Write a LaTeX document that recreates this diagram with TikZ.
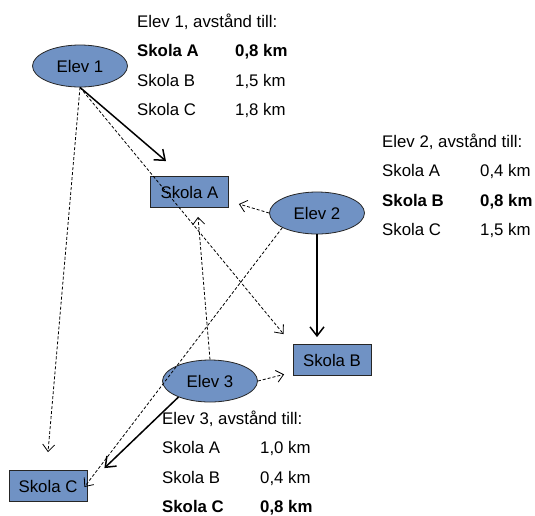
\documentclass[tikz,border=0pt]{standalone}
\usepackage{fontspec}
\setmainfont{Liberation Sans}
\usetikzlibrary{shapes,arrows.meta}

\definecolor{elevblue}{RGB}{112,146,196}

\begin{document}
\begin{tikzpicture}[x=1pt, y=-1pt, font=\fontsize{16.8}{29.5}\selectfont,
    elev/.style={ellipse, draw=black!85, fill=elevblue, line width=0.8pt, minimum width=95pt, minimum height=42pt, inner sep=0pt},
    skola/.style={rectangle, draw=black!85, fill=elevblue, line width=0.8pt, minimum width=78pt, minimum height=31pt, inner sep=0pt},
    info/.style={anchor=base west, inner sep=0pt},
    pick/.style={-{Straight Barb[length=9pt,width=14pt]}, line width=1.5pt},
    alt/.style={-{Straight Barb[length=7pt,width=12pt]}, line width=0.8pt, dash pattern=on 3pt off 2pt}]
    \useasboundingbox (0,0) rectangle (535,515);

    \node[elev] (E1) at (80,66) {Elev 1};
    \node[elev] (E2) at (317,213) {Elev 2};
    \node[elev] (E3) at (210,381) {Elev 3};
    \node[skola] (SA) at (189.5,192) {Skola A};
    \node[skola] (SB) at (332,360) {Skola B};
    \node[skola] (SC) at (48,486) {Skola C};

    % distances
    \node[info] (T1) at (137,27) {\begin{tabular}[t]{@{}p{98pt}@{}l@{}}
        \multicolumn{2}{@{}l@{}}{Elev 1, avstånd till:}\\
        \textbf{Skola A} & \textbf{0,8 km}\\
        Skola B & 1,5 km\\
        Skola C & 1,8 km
      \end{tabular}};
    \node[info] (T2) at (382,147) {\begin{tabular}[t]{@{}p{98pt}@{}l@{}}
        \multicolumn{2}{@{}l@{}}{Elev 2, avstånd till:}\\
        Skola A & 0,4 km\\
        \textbf{Skola B} & \textbf{0,8 km}\\
        Skola C & 1,5 km
      \end{tabular}};
    \node[info] (T3) at (162,424) {\begin{tabular}[t]{@{}p{98pt}@{}l@{}}
        \multicolumn{2}{@{}l@{}}{Elev 3, avstånd till:}\\
        Skola A & 1,0 km\\
        Skola B & 0,4 km\\
        \textbf{Skola C} & \textbf{0,8 km}
      \end{tabular}};

    \path (E1.south) edge[pick] ([shift={(-23.5,-15)}]SA.north)
          (E1.south) edge[alt] ([shift={(-9,-10)}]SB.north west)
          (E1.south) edge[alt] ([shift={(0,-18)}]SC.north)
          (E2.west) edge[alt] ([shift={(10,12)}]SA.east)
          (E2.south) edge[pick] ([shift={(-15,-7)}]SB.north)
          (E2.203) edge[alt] ([shift={(-3,1)}]SC.east)
          (E3.north) edge[alt] ([shift={(8.5,9)}]SA.south)
          (E3.east) edge[alt] ([shift={(-8.5,-1.5)}]SB.south west)
          (E3.207) edge[pick] ([shift={(17,-2)}]SC.north east);
  \end{tikzpicture}
\end{document}
